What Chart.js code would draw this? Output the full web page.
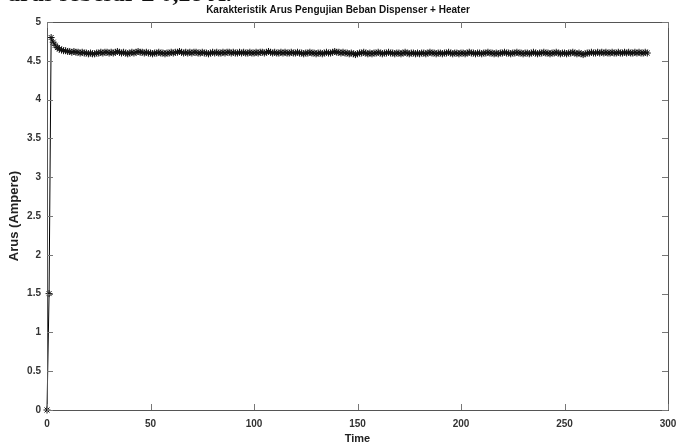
<!DOCTYPE html>
<html>
<head>
<meta charset="utf-8">
<script src="https://cdn.jsdelivr.net/npm/chart.js@4/dist/chart.umd.min.js"></script>
<style>
  html, body { margin: 0; padding: 0; background: #fff; }
  #wrap { position: relative; width: 676px; height: 447px; }
</style>
</head>
<body>
<div id="wrap"><canvas id="lineChart" width="676" height="447"></canvas></div>
<script>
// sample interval (s) and measured current (A), one sample per second
var timeStep = 1;
var arus = [
  0, 1.5, 4.8, 4.74, 4.7, 4.67, 4.65, 4.64, 4.63, 4.63,
  4.62, 4.62, 4.61, 4.62, 4.61, 4.61, 4.6, 4.61, 4.6, 4.6,
  4.59, 4.6, 4.59, 4.59, 4.6, 4.6, 4.61, 4.6, 4.61, 4.61,
  4.6, 4.61, 4.6, 4.61, 4.62, 4.61, 4.6, 4.61, 4.6, 4.59,
  4.6, 4.61, 4.6, 4.61, 4.62, 4.61, 4.61, 4.6, 4.61, 4.6,
  4.6, 4.59, 4.6, 4.6, 4.61, 4.6, 4.6, 4.59, 4.6, 4.6,
  4.61, 4.6, 4.61, 4.61, 4.62, 4.61, 4.6, 4.61, 4.6, 4.61,
  4.6, 4.61, 4.61, 4.6, 4.6, 4.61, 4.6, 4.6, 4.59, 4.6,
  4.61, 4.6, 4.61, 4.6, 4.6, 4.61, 4.6, 4.61, 4.61, 4.6,
  4.61, 4.6, 4.6, 4.61, 4.6, 4.61, 4.6, 4.6, 4.61, 4.6,
  4.6, 4.61, 4.6, 4.61, 4.61, 4.6, 4.61, 4.62, 4.61, 4.6,
  4.61, 4.6, 4.6, 4.61, 4.6, 4.61, 4.6, 4.6, 4.61, 4.6,
  4.6, 4.61, 4.6, 4.6, 4.59, 4.6, 4.6, 4.61, 4.6, 4.6,
  4.59, 4.6, 4.6, 4.59, 4.6, 4.61, 4.6, 4.6, 4.61, 4.62,
  4.61, 4.61, 4.6, 4.61, 4.6, 4.6, 4.59, 4.6, 4.59, 4.58,
  4.59, 4.6, 4.6, 4.61, 4.6, 4.59, 4.6, 4.59, 4.6, 4.6,
  4.61, 4.6, 4.59, 4.6, 4.6, 4.61, 4.6, 4.6, 4.59, 4.6,
  4.6, 4.59, 4.6, 4.61, 4.6, 4.59, 4.6, 4.6, 4.59, 4.6,
  4.59, 4.6, 4.6, 4.59, 4.6, 4.61, 4.6, 4.6, 4.59, 4.6,
  4.6, 4.59, 4.6, 4.6, 4.61, 4.6, 4.59, 4.6, 4.6, 4.59,
  4.6, 4.6, 4.59, 4.6, 4.61, 4.6, 4.6, 4.59, 4.6, 4.6,
  4.59, 4.6, 4.6, 4.61, 4.6, 4.6, 4.59, 4.6, 4.59, 4.6,
  4.6, 4.61, 4.6, 4.6, 4.59, 4.6, 4.6, 4.61, 4.6, 4.6,
  4.59, 4.6, 4.6, 4.59, 4.6, 4.61, 4.6, 4.59, 4.6, 4.6,
  4.61, 4.6, 4.6, 4.59, 4.6, 4.6, 4.61, 4.6, 4.59, 4.6,
  4.6, 4.59, 4.6, 4.6, 4.61, 4.6, 4.59, 4.6, 4.59, 4.58,
  4.59, 4.6, 4.6, 4.61, 4.6, 4.6, 4.61, 4.6, 4.61, 4.6,
  4.61, 4.6, 4.6, 4.61, 4.6, 4.6, 4.61, 4.6, 4.6, 4.61,
  4.6, 4.61, 4.6, 4.6, 4.61, 4.6, 4.61, 4.6, 4.6, 4.61,
  4.6
];
var xTicks = [0, 50, 100, 150, 200, 250, 300];
var yTicks = [0, 0.5, 1, 1.5, 2, 2.5, 3, 3.5, 4, 4.5, 5];

var points = arus.map(function (v, i) { return { x: i * timeStep, y: v }; });

var sans = '"Liberation Sans", Arial, sans-serif';

// box, inward ticks, title and page text around the axes (matlab style)
var frame = {
  id: 'frame',
  afterDraw: function (chart) {
    var c = chart.ctx, a = chart.chartArea;
    var xs = chart.scales.x, ys = chart.scales.y;
    c.save();
    c.strokeStyle = '#555';
    c.lineWidth = 1;
    c.strokeRect(Math.round(a.left) + 0.5, Math.round(a.top) + 0.5,
                 Math.round(a.right - a.left), Math.round(a.bottom - a.top));
    c.strokeStyle = '#777';
    c.beginPath();
    xTicks.forEach(function (t) {
      var px = Math.round(xs.getPixelForValue(t)) + 0.5;
      c.moveTo(px, a.bottom); c.lineTo(px, a.bottom - 6);
      c.moveTo(px, a.top); c.lineTo(px, a.top + 6);
    });
    yTicks.forEach(function (t) {
      var py = Math.round(ys.getPixelForValue(t)) + 0.5;
      c.moveTo(a.left, py); c.lineTo(a.left + 6, py);
      c.moveTo(a.right, py); c.lineTo(a.right - 6, py);
    });
    c.stroke();

    c.fillStyle = '#111';
    c.textAlign = 'center';
    c.textBaseline = 'alphabetic';
    c.font = 'bold 10px ' + sans;
    c.fillText('Karakteristik Arus Pengujian Beban Dispenser + Heater', 338, 13);

    // bottom of the document line above the figure
    c.textAlign = 'left';
    c.font = 'bold 24px "Liberation Serif", "Times New Roman", serif';
    c.fillText('arus sebesar \u00b1 0,28 A.', 8, 1);
    c.restore();
  }
};

var ctx = document.getElementById('lineChart').getContext('2d');
new Chart(ctx, {
  type: 'line',
  data: {
    datasets: [{
      label: 'Arus',
      data: points,
      borderColor: '#000',
      backgroundColor: '#000',
      borderWidth: 1,
      pointStyle: 'star',
      pointRadius: 3.5,
      pointBorderWidth: 1,
      pointBorderColor: '#111',
      tension: 0,
      clip: false
    }]
  },
  options: {
    responsive: false,
    animation: false,
    layout: { padding: { top: 22, right: 8, left: 0, bottom: 0 } },
    plugins: {
      legend: { display: false },
      tooltip: { enabled: false }
    },
    scales: {
      x: {
        type: 'linear',
        min: 0,
        max: 300,
        border: { display: false },
        grid: { display: false, tickLength: 0 },
        afterBuildTicks: function (s) { s.ticks = xTicks.map(function (v) { return { value: v }; }); },
        afterFit: function (s) { s.height = 37; s.paddingLeft = 0; s.paddingRight = 0; },
        ticks: {
          color: '#333',
          padding: 8,
          maxRotation: 0,
          callback: function (v) { return String(v); },
          font: { family: sans, size: 10, weight: 'bold' }
        },
        title: {
          display: true,
          text: 'Time',
          color: '#222',
          padding: { top: 0, bottom: 1 },
          font: { family: sans, size: 11, weight: 'bold' }
        }
      },
      y: {
        min: 0,
        max: 5,
        border: { display: false },
        grid: { display: false, tickLength: 0 },
        afterBuildTicks: function (s) { s.ticks = yTicks.map(function (v) { return { value: v }; }); },
        afterFit: function (s) { s.width = 47; s.paddingTop = 0; s.paddingBottom = 0; },
        ticks: {
          color: '#333',
          padding: 6,
          callback: function (v) { return String(v); },
          font: { family: sans, size: 10, weight: 'bold' }
        },
        title: {
          display: true,
          text: 'Arus (Ampere)',
          color: '#222',
          padding: { top: 7, bottom: 0 },
          font: { family: sans, size: 13, weight: 'bold' }
        }
      }
    }
  },
  plugins: [frame]
});
</script>
</body>
</html>
